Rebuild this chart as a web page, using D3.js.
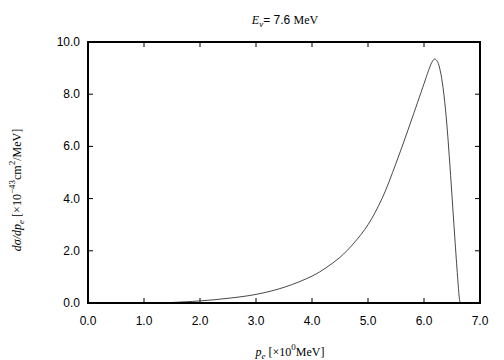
<!DOCTYPE html>
<html><head><meta charset="utf-8">
<script src="https://cdn.jsdelivr.net/npm/d3@7"></script>
<style>body{margin:0;background:#fff}svg{display:block}</style>
</head><body>
<svg id="c" width="504" height="360"></svg>
<script>
const pe = [1.27,1.5,2.0,2.5,3.0,3.5,4.0,4.25,4.5,4.75,5.0,5.25,5.5,5.75,6.0,6.08,6.14,6.19,6.24,6.29,6.34,6.4,6.45,6.5,6.55,6.6,6.63,6.645];
const xsec = [0.0,0.02,0.08,0.18,0.33,0.6,1.03,1.35,1.75,2.3,3.0,4.0,5.35,6.85,8.4,8.9,9.22,9.35,9.25,8.9,8.25,7.05,5.65,4.1,2.5,1.0,0.2,0.0];
const xTicks = [0,1,2,3,4,5,6,7];
const yTicks = [0,2,4,6,8,10];

const svg = d3.select('#c');
const L=88,R=480,T=42,B=303;
const x = d3.scaleLinear().domain([0,7]).range([L,R]);
const y = d3.scaleLinear().domain([0,10]).range([B,T]);
const font = "'Liberation Sans', Arial, sans-serif";
const serif = "'Liberation Serif', 'Times New Roman', serif";

// ticks
const g = svg.append('g').attr('stroke','#000').attr('stroke-width',1);
xTicks.slice(1,-1).forEach(v=>{
  g.append('line').attr('x1',x(v)).attr('x2',x(v)).attr('y1',B).attr('y2',B-5);
  g.append('line').attr('x1',x(v)).attr('x2',x(v)).attr('y1',T).attr('y2',T+5);
});
yTicks.slice(1,-1).forEach(v=>{
  g.append('line').attr('x1',L).attr('x2',L+5).attr('y1',y(v)).attr('y2',y(v));
  g.append('line').attr('x1',R).attr('x2',R-5).attr('y1',y(v)).attr('y2',y(v));
});
xTicks.forEach(v=>{
  svg.append('text').attr('x',x(v)).attr('y',B+22).attr('text-anchor','middle')
    .attr('font-family',font).attr('font-size',12).text(v.toFixed(1));
});
yTicks.forEach(v=>{
  svg.append('text').attr('x',L-8).attr('y',y(v)+4).attr('text-anchor','end')
    .attr('font-family',font).attr('font-size',12).text(v.toFixed(1));
});

// curve
const line = d3.line().x((d,i)=>x(pe[i])).y((d,i)=>y(xsec[i])).curve(d3.curveCatmullRom.alpha(0.5));
svg.append('path').attr('d',line(pe)).attr('fill','none').attr('stroke','#333').attr('stroke-width',0.9);

// frame
svg.append('rect').attr('x',L).attr('y',T).attr('width',R-L).attr('height',B-T)
  .attr('fill','none').attr('stroke','#000').attr('stroke-width',2);

// title
const t = svg.append('text').attr('x',285).attr('y',24).attr('text-anchor','middle').attr('font-size',12);
t.append('tspan').attr('font-family',serif).attr('font-style','italic').text('E');
t.append('tspan').attr('font-family',serif).attr('font-style','italic').attr('font-size',9).attr('dy',3).text('ν');
t.append('tspan').attr('font-family',font).attr('dy',-3).text('= 7.6 ');
t.append('tspan').attr('font-family',serif).text('MeV');

// x label
const xl = svg.append('text').attr('x',290).attr('y',356).attr('text-anchor','middle').attr('font-size',12).attr('font-family',serif);
xl.append('tspan').attr('font-style','italic').text('p');
xl.append('tspan').attr('font-style','italic').attr('font-size',9).attr('dy',3).text('e');
xl.append('tspan').attr('dy',-3).text(' [×10');
xl.append('tspan').attr('font-size',9).attr('dy',-6).text('0');
xl.append('tspan').attr('dy',6).text('MeV]');

// y label
const yl = svg.append('text').attr('transform','translate(21,190) rotate(-90)').attr('text-anchor','middle').attr('font-size',12).attr('font-family',serif);
yl.append('tspan').attr('font-style','italic').text('dσ/dp');
yl.append('tspan').attr('font-style','italic').attr('font-size',9).attr('dy',3).text('e');
yl.append('tspan').attr('dy',-3).text(' [×10');
yl.append('tspan').attr('font-size',9).attr('dy',-6).text('−43');
yl.append('tspan').attr('dy',6).text('cm');
yl.append('tspan').attr('font-size',9).attr('dy',-6).text('2');
yl.append('tspan').attr('dy',6).text('/MeV]');
</script>
</body></html>
